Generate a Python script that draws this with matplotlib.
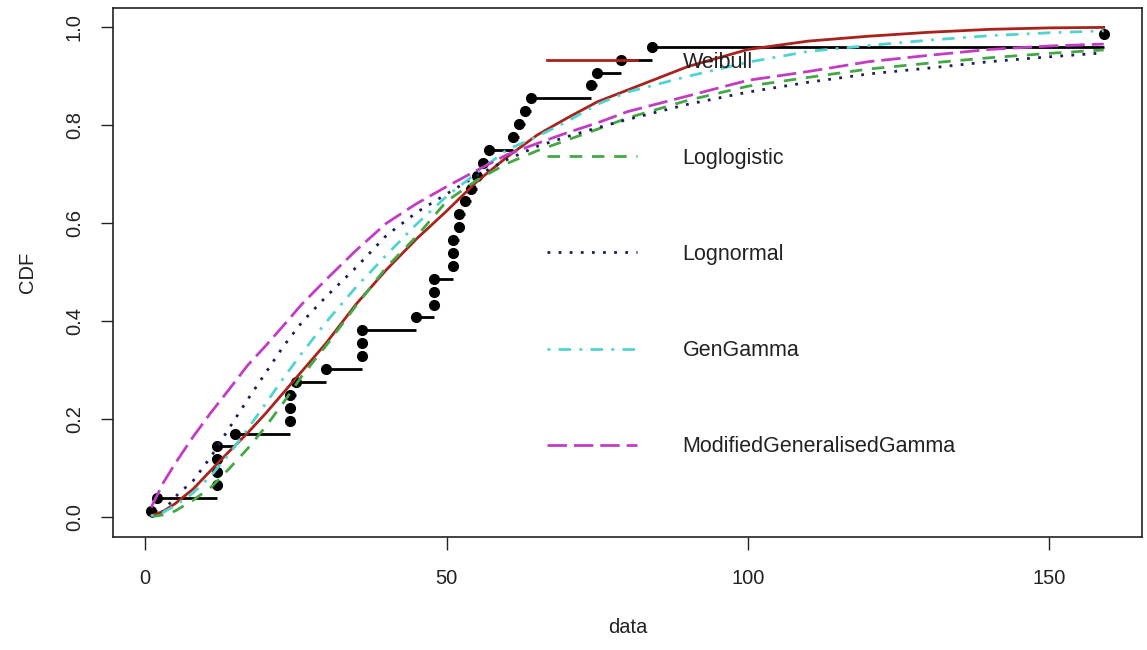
import matplotlib
matplotlib.use("Agg")
import matplotlib.pyplot as plt
import numpy as np

plt.rcParams['font.family'] = ['Liberation Sans', 'DejaVu Sans']

# observed data (sorted), n = 38
data = [1, 2, 12, 12, 12, 12, 15, 24, 24, 24, 25, 30, 36, 36, 36, 45,
        48, 48, 48, 51, 51, 51, 52, 52, 53, 54, 55, 56, 57, 61, 62, 63, 64,
        74, 75, 79, 84, 159]

# fitted CDF curves
curve_x = [1, 3, 5, 8, 11, 14, 17, 20, 23, 26, 30, 35, 40, 45, 50, 55, 60,
           65, 70, 75, 80, 90, 100, 110, 120, 130, 140, 150, 159]
weibull = [0.003, 0.012, 0.028, 0.058, 0.097, 0.135, 0.172, 0.212, 0.255,
           0.298, 0.355, 0.435, 0.505, 0.568, 0.625, 0.685, 0.735, 0.78,
           0.815, 0.848, 0.872, 0.92, 0.955, 0.972, 0.982, 0.99, 0.996,
           0.999, 1.0]
loglogistic = [0.001, 0.005, 0.013, 0.035, 0.062, 0.1, 0.14, 0.185, 0.235,
               0.288, 0.35, 0.432, 0.51, 0.573, 0.645, 0.688, 0.722, 0.748,
               0.77, 0.792, 0.815, 0.851, 0.88, 0.898, 0.915, 0.927, 0.938,
               0.947, 0.954]
lognormal = [0.001, 0.012, 0.042, 0.075, 0.125, 0.183, 0.24, 0.295, 0.35,
             0.398, 0.45, 0.51, 0.575, 0.622, 0.66, 0.697, 0.73, 0.757,
             0.777, 0.795, 0.812, 0.843, 0.868, 0.888, 0.905, 0.917, 0.93,
             0.94, 0.948]
gengamma = [0.003, 0.01, 0.024, 0.05, 0.086, 0.13, 0.18, 0.232, 0.285,
            0.335, 0.398, 0.47, 0.535, 0.598, 0.655, 0.703, 0.75, 0.777,
            0.808, 0.843, 0.868, 0.9, 0.929, 0.951, 0.963, 0.974, 0.983,
            0.989, 0.993]
modgengamma = [0.02, 0.07, 0.11, 0.165, 0.215, 0.262, 0.31, 0.35, 0.392,
               0.435, 0.485, 0.545, 0.6, 0.64, 0.675, 0.708, 0.74, 0.763,
               0.785, 0.805, 0.828, 0.86, 0.892, 0.91, 0.93, 0.943, 0.955,
               0.962, 0.966]

labels = ["Weibull", "Loglogistic", "Lognormal", "GenGamma",
          "ModifiedGeneralisedGamma"]

fig = plt.figure(figsize=(11.47, 6.5), dpi=100)
ax = fig.add_axes([0.0985, 0.174, 0.897, 0.814])

# empirical cdf: points at (i - 0.5) / n, steps to the next distinct value
x = np.array(data, dtype=float)
n = len(x)
p = (np.arange(1, n + 1) - 0.5) / n
ux = np.unique(x)
for i in range(len(ux) - 1):
    top = p[x == ux[i]].max()
    ax.plot([ux[i], ux[i + 1]], [top, top], color="black", lw=2.0,
            solid_capstyle="butt", zorder=2)
ax.plot(x, p, "o", color="black", ms=7, zorder=3)

styles = [
    (weibull, "#A8231C", "-"),
    (loglogistic, "#45A845", (0, (4.5, 3.5))),
    (lognormal, "#1B1F5C", (0, (1, 3))),
    (gengamma, "#50D4D0", (0, (1, 3, 4.5, 3))),
    (modgengamma, "#C23CC6", (0, (7, 2.5))),
]
for (vals, col, ls), lab in zip(styles, labels):
    ax.plot(curve_x, vals, color=col, ls=ls, lw=2.0, label=lab, zorder=4)

ax.set_xlim(-5.32, 165.32)
ax.set_ylim(-0.04, 1.04)
ax.set_xticks([0, 50, 100, 150])
ax.set_yticks([0.0, 0.2, 0.4, 0.6, 0.8, 1.0])
ax.set_yticklabels(["0.0", "0.2", "0.4", "0.6", "0.8", "1.0"],
                   rotation=90, va="center")
ax.tick_params(axis="both", length=9, width=1.0, labelsize=14.5,
               color="#222222", labelcolor="#222222")
ax.tick_params(axis="x", pad=14)
ax.tick_params(axis="y", pad=12)
for s in ax.spines.values():
    s.set_linewidth(1.2)
    s.set_color("#222222")
ax.set_xlabel("data", fontsize=14.5, color="#222222", labelpad=22)
ax.set_ylabel("CDF", fontsize=14.5, color="#222222", labelpad=20)

ax.legend(loc="upper left", bbox_to_anchor=(0.403, 0.954), frameon=False,
          fontsize=15.5, handlelength=4.2, handletextpad=2.1,
          labelspacing=3.495, labelcolor="#222222")

fig.savefig("out.png", dpi=100)
